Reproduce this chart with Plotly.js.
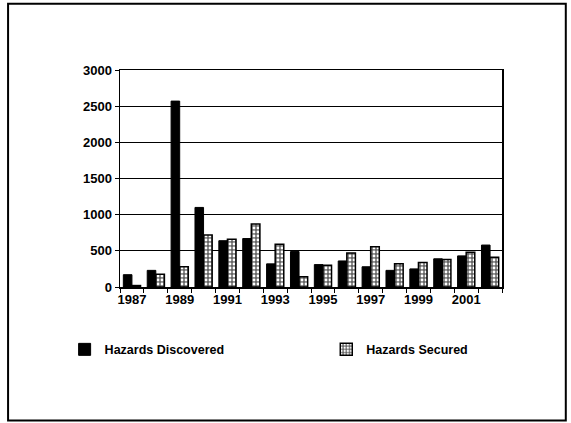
<!DOCTYPE html>
<html>
<head>
<meta charset="utf-8">
<script src="https://cdn.plot.ly/plotly-3.0.1.min.js"></script>
<style>
html,body{margin:0;padding:0;background:#fff;}
#chart{width:571px;height:423px;}
</style>
</head>
<body>
<div id="chart"></div>
<script>
var years = [1987,1988,1989,1990,1991,1992,1993,1994,1995,1996,1997,1998,1999,2000,2001,2002];
var discovered = [170,230,2570,1100,640,670,320,490,310,360,280,230,250,390,430,580];
var secured = [20,175,280,720,660,870,590,140,300,470,555,320,340,380,480,410];
var tickYears = [1987,1989,1991,1993,1995,1997,1999,2001];
var yTicks = [0,500,1000,1500,2000,2500,3000];
var seriesNames = ["Hazards Discovered","Hazards Secured"];

var font = {family:"Liberation Sans, Arial, sans-serif", size:12.5, color:"#000", weight:"bold"};
var tickFont = {family:"Liberation Sans, Arial, sans-serif", size:13, color:"#000", weight:"bold"};

var traces = [
  {
    type:"bar", x:years, y:discovered, name:seriesNames[0], legend:"legend",
    marker:{color:"#000", line:{color:"#000", width:1}},
    hoverinfo:"skip"
  },
  {
    type:"bar", x:years, y:secured, name:seriesNames[1], legend:"legend2",
    marker:{color:"#fff", line:{color:"#000", width:1.5},
      pattern:{shape:".", bgcolor:"#666666", fgcolor:"#ffffff", size:4, solidity:0.4}},
    hoverinfo:"skip"
  }
];

var legendBase = {orientation:"h", y:-0.22, xanchor:"left", yanchor:"top",
  font:font, itemwidth:30, bgcolor:"rgba(0,0,0,0)"};

var layout = {
  width:571, height:423,
  margin:{l:120, r:69, t:70, b:136},
  paper_bgcolor:"#fff", plot_bgcolor:"#fff",
  font:font,
  barmode:"group", bargap:0.28, bargroupgap:0,
  showlegend:true,
  legend:Object.assign({}, legendBase, {x:-0.145}),
  legend2:Object.assign({}, legendBase, {x:0.54}),
  xaxis:{
    range:[1986.5,2002.5], tickmode:"array", tickvals:tickYears, ticktext:tickYears.map(String),
    ticks:"", showgrid:false, showline:true, linecolor:"#000", linewidth:1.5, mirror:true,
    minor:{tick0:1986.5, dtick:1, ticks:"outside", ticklen:4, tickcolor:"#000", showgrid:false},
    tickfont:tickFont, zeroline:false, fixedrange:true
  },
  yaxis:{
    range:[0,3000], tickmode:"array", tickvals:yTicks, ticks:"outside", ticklen:4, tickcolor:"#000",
    showgrid:true, gridcolor:"#000", gridwidth:1.2, showline:true, linecolor:"#000", linewidth:1.5, mirror:true,
    tickfont:tickFont, zeroline:false, fixedrange:true
  },
  shapes:[
    {type:"rect", xref:"paper", yref:"paper", x0:-0.293, x1:1.167, y0:-0.615, y1:1.305,
     line:{color:"#000", width:2}}
  ]
};

Plotly.newPlot("chart", traces, layout, {displayModeBar:false, staticPlot:true});
</script>
</body>
</html>
